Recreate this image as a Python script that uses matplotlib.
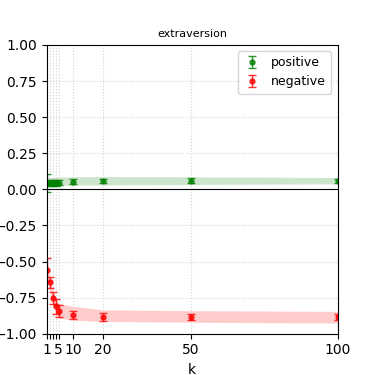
import matplotlib
matplotlib.use("Agg")
from matplotlib import pyplot as plt

k = [1, 2, 3, 4, 5, 10, 20, 50, 100]
tick_labels = ["1", "", "", "", "5", "10", "20", "50", "100"]

pos_mean = [0.045, 0.045, 0.046, 0.046, 0.047, 0.054, 0.056, 0.059, 0.060]
pos_err = [0.06, 0.02, 0.02, 0.02, 0.02, 0.02, 0.015, 0.018, 0.015]
pos_low = [0.018, 0.020, 0.022, 0.024, 0.026, 0.030, 0.031, 0.034, 0.038]
pos_high = [0.082, 0.082, 0.083, 0.084, 0.085, 0.087, 0.089, 0.087, 0.082]

neg_mean = [-0.557, -0.645, -0.751, -0.811, -0.841, -0.871, -0.884, -0.882, -0.882]
neg_err = [0.08, 0.04, 0.04, 0.05, 0.04, 0.03, 0.025, 0.022, 0.022]
neg_low = [-0.62, -0.70, -0.80, -0.86, -0.89, -0.905, -0.915, -0.92, -0.926]
neg_high = [-0.50, -0.60, -0.70, -0.76, -0.79, -0.81, -0.835, -0.84, -0.845]

fig, ax = plt.subplots(figsize=(3.75, 3.75), dpi=100)

ax.fill_between(k, pos_low, pos_high, color="green", alpha=0.2, linewidth=0)
ax.fill_between(k, neg_low, neg_high, color="red", alpha=0.2, linewidth=0)
ax.errorbar(k, pos_mean, yerr=pos_err, fmt="o", color="green", markersize=3.5,
            capsize=3, elinewidth=1, alpha=0.8, label="positive", linestyle="none")
ax.errorbar(k, neg_mean, yerr=neg_err, fmt="o", color="red", markersize=3.5,
            capsize=3, elinewidth=1, alpha=0.8, label="negative", linestyle="none")
ax.axhline(0, color="black", linewidth=0.8)

ax.set_xlim(1, 100)
ax.set_ylim(-1, 1)
ax.set_xticks(k)
ax.set_xticklabels(tick_labels)
ax.set_yticks([-1, -0.75, -0.5, -0.25, 0, 0.25, 0.5, 0.75, 1])
ax.grid(True, linestyle=":", color="lightgray", linewidth=0.8)
ax.set_xlabel("k")
ax.set_title("extraversion", fontsize=8)
ax.legend(loc="upper right", fontsize=9, handlelength=1.5)

fig.savefig("out.png", dpi=100)
